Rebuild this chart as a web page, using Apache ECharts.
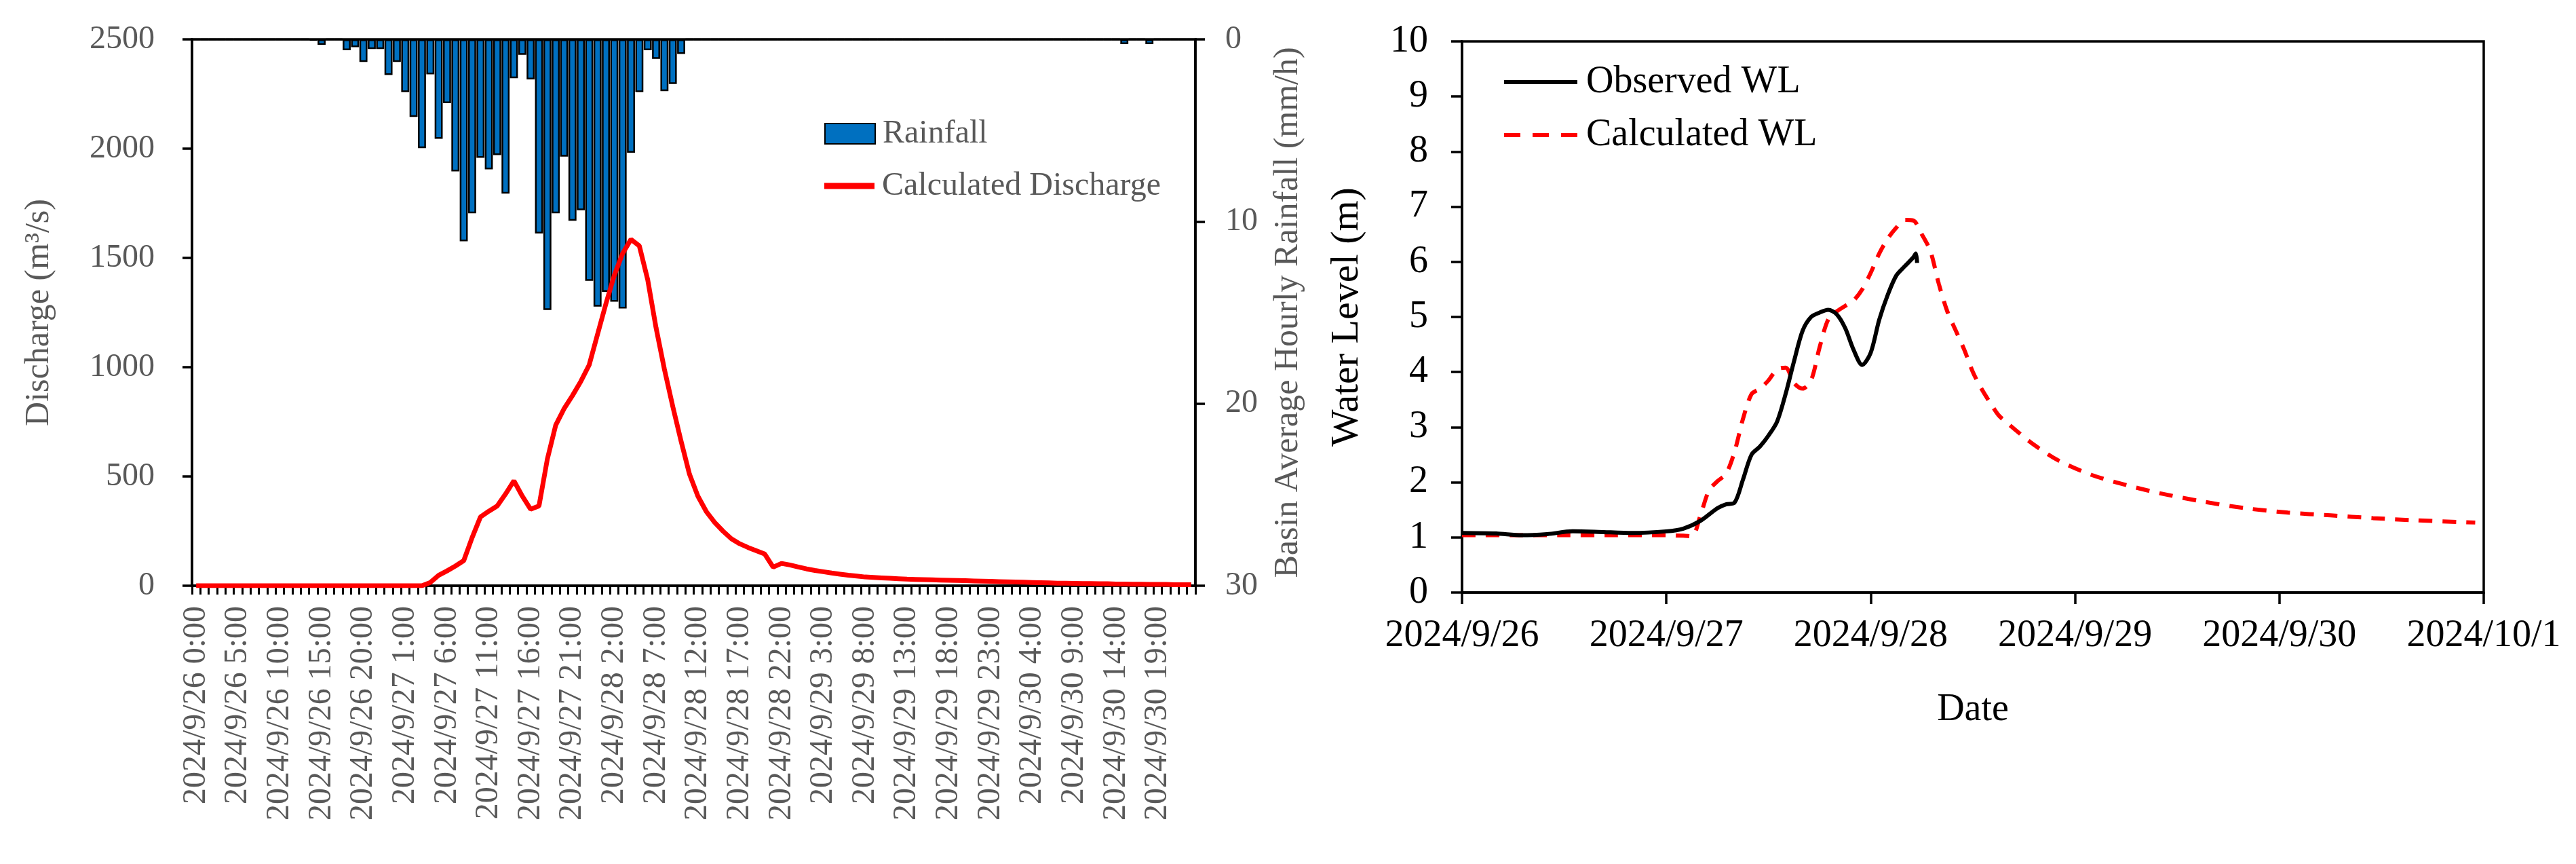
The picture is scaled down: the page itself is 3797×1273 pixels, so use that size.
<!DOCTYPE html>
<html><head><meta charset="utf-8">
<script src="https://cdn.jsdelivr.net/npm/echarts@6/dist/echarts.min.js"></script>
<style>html,body{margin:0;padding:0;background:#fff}#c{width:3797px;height:1273px}</style>
</head><body><div id="c"></div>
<script>
// Hourly basin average rainfall (mm/h), 2024/9/26 0:00 .. 2024/9/30 23:00
const rainfall = [
  0,0,0,0,0,0,0,0,0,0,
  0,0,0,0,0.05,0.3,0,0,0.6,0.43,
  1.24,0.53,0.53,1.96,1.24,2.9,4.26,5.97,1.92,5.46,
  3.5,7.25,11.09,9.55,6.5,7.14,6.35,8.47,2.13,0.85,
  2.2,10.66,14.86,9.55,6.44,9.96,9.38,13.26,14.67,13.86,
  14.4,14.78,6.22,2.9,0.6,1.07,2.84,2.45,0.8,0,
  0,0,0,0,0,0,0,0,0,0,
  0,0,0,0,0,0,0,0,0,0,
  0,0,0,0,0,0,0,0,0,0,
  0,0,0,0,0,0,0,0,0,0,
  0,0,0,0,0,0,0,0,0,0,
  0,0.26,0,0,0.26,0,0,0,0,0
];
// Hourly calculated discharge (m3/s)
const discharge = [
  0,0,0,0,0,0,0,0,0,0,
  0,0,0,0,0,0,0,0,0,0,
  0,0,0,0,0,0,0,0,15,48,
  68,90,115,220,315,341,365,420,480,410,
  350,365,580,735,810,870,935,1010,1150,1290,
  1420,1520,1585,1555,1400,1180,990,820,660,510,
  410,340,290,250,215,192,175,160,145,85,
  102,95,86,77,70,64,58,53,48,44,
  40,38,36,34,32,30,29,28,27,26,
  25,24,23,22,21,20,19,18,17,16,
  15,14,13,12,12,11,10,10,9,9,
  8,8,7,7,6,6,6,5,5,5
];
// Water level: hours since 2024/9/26 0:00
const obsHours = [0,4,7,10,13,16,20,24,26,28,30,31,32,33,34,35,36,37,38,39,40,41,42,43,44,45,46,47,48,49,50,51,52,53,53.3,53.45];
const obsLevel = [1.08,1.07,1.04,1.06,1.11,1.10,1.08,1.11,1.16,1.30,1.53,1.60,1.63,2.05,2.5,2.65,2.85,3.1,3.6,4.2,4.75,5.0,5.08,5.13,5.05,4.8,4.4,4.13,4.35,4.95,5.4,5.75,5.92,6.08,6.15,5.98];
const calHours = [0,6,12,18,24,26,27,28,29,30,31,32,33,34,35,36,37,38,39,40,41,42,43,44,45,46,47,48,49,50,51,52,53,54,55,56,57,58,59,60,61,62,63,64,65,67,70,74,78,82,87,92,97,102,107,112,119];
const calLevel = [1.04,1.04,1.04,1.04,1.04,1.03,1.02,1.4,1.85,2.02,2.15,2.55,3.15,3.6,3.7,3.85,4.05,4.08,3.8,3.7,3.85,4.45,4.95,5.1,5.2,5.3,5.5,5.8,6.15,6.42,6.62,6.76,6.75,6.5,6.2,5.6,5.1,4.75,4.4,4.0,3.7,3.45,3.22,3.08,2.95,2.7,2.4,2.13,1.95,1.8,1.65,1.53,1.45,1.4,1.35,1.31,1.27];
const dateTicks = ['2024/9/26','2024/9/27','2024/9/28','2024/9/29','2024/9/30','2024/10/1'];
const categories = [];
for (let h = 0; h < 120; h++) {
  categories.push('2024/9/' + (26 + Math.floor(h / 24)) + ' ' + (h % 24) + ':00');
}

const serif = '"Liberation Serif", "Times New Roman", serif';
const grey = '#595959';
const chart = echarts.init(document.getElementById('c'), null, {renderer: 'canvas'});
const axisLine = {show: true, lineStyle: {color: '#000', width: 3.5}};
const leftText = {fontFamily: serif, fontSize: 48, color: grey, padding: [0, 0, 0, 6]};
const rightText = {fontFamily: serif, fontSize: 56, color: '#000', padding: [0, 0, 0, 8]};
chart.setOption({
  backgroundColor: '#fff',
  animation: false,
  textStyle: {fontFamily: serif},
  grid: [
    {left: 283, right: 3797 - 1762, top: 58, bottom: 1273 - 863, show: true, borderColor: '#000', borderWidth: 3.5, containLabel: false},
    {left: 2155, right: 3797 - 3661, top: 61, bottom: 1273 - 873, show: true, borderColor: '#000', borderWidth: 3.5, containLabel: false}
  ],
  legend: [
    {
      left: 1210, top: 168, itemWidth: 74, itemHeight: 30, textStyle: leftText,
      data: [{name: 'Rainfall', icon: 'rect'}]
    },
    {
      left: 1210, top: 245, itemWidth: 74, itemHeight: 9, textStyle: leftText,
      data: [{name: 'Calculated Discharge', icon: 'rect'}]
    },
    {
      left: 2212, top: 88, itemWidth: 108, itemHeight: 6, textStyle: rightText,
      data: [{name: 'Observed WL', icon: 'rect'}]
    },
    {
      left: 2212, top: 166, itemWidth: 108, itemHeight: 6, textStyle: rightText,
      data: [{name: 'Calculated WL', icon: 'path://M0,0h24v6h-24z M42,0h24v6h-24z M84,0h24v6h-24z'}]
    }
  ],
  xAxis: [
    {
      type: 'category', gridIndex: 0, data: categories, boundaryGap: true,
      axisLine: axisLine,
      axisTick: {show: true, interval: 0, length: 13, lineStyle: {color: '#000', width: 3}},
      axisLabel: {interval: 4, rotate: 90, margin: 30, fontFamily: serif, fontSize: 48, color: grey},
      splitLine: {show: false}
    },
    {
      type: 'value', gridIndex: 1, min: 0, max: 120, interval: 24,
      name: 'Date', nameLocation: 'middle', nameGap: 145,
      nameTextStyle: {fontFamily: serif, fontSize: 56, color: '#000'},
      axisLine: axisLine,
      axisTick: {show: true, length: 17, lineStyle: {color: '#000', width: 3.5}},
      axisLabel: {margin: 36, fontFamily: serif, fontSize: 56, color: '#000',
        formatter: v => dateTicks[Math.round(v / 24)]},
      splitLine: {show: false}
    }
  ],
  yAxis: [
    {
      type: 'value', gridIndex: 0, min: 0, max: 2500, interval: 500, position: 'left',
      name: 'Discharge (m³/s)', nameLocation: 'middle', nameGap: 200, nameRotate: 90,
      nameTextStyle: {fontFamily: serif, fontSize: 50, color: grey},
      axisLine: axisLine,
      axisTick: {show: true, length: 14, lineStyle: {color: '#000', width: 3.5}},
      axisLabel: {margin: 55, fontFamily: serif, fontSize: 48, color: grey, formatter: v => String(v)},
      splitLine: {show: false}
    },
    {
      type: 'value', gridIndex: 0, min: 0, max: 30, interval: 10, position: 'right', inverse: true,
      name: 'Basin Average Hourly Rainfall (mm/h)', nameLocation: 'middle', nameGap: 112, nameRotate: 90,
      nameTextStyle: {fontFamily: serif, fontSize: 50, color: grey},
      axisLine: axisLine,
      axisTick: {show: true, length: 14, lineStyle: {color: '#000', width: 3.5}},
      axisLabel: {margin: 44, fontFamily: serif, fontSize: 48, color: grey, formatter: v => String(v)},
      splitLine: {show: false}
    },
    {
      type: 'value', gridIndex: 1, min: 0, max: 10, interval: 1,
      name: 'Water Level (m)', nameLocation: 'middle', nameGap: 140, nameRotate: 90,
      nameTextStyle: {fontFamily: serif, fontSize: 58, color: '#000'},
      axisLine: axisLine,
      axisTick: {show: true, length: 16, lineStyle: {color: '#000', width: 3.5}},
      axisLabel: {margin: 50, fontFamily: serif, fontSize: 56, color: '#000'},
      splitLine: {show: false}
    }
  ],
  series: [
    {
      name: 'Rainfall', type: 'bar', xAxisIndex: 0, yAxisIndex: 1, data: rainfall,
      barCategoryGap: '4%',
      itemStyle: {color: '#0070C0', borderColor: '#000', borderWidth: 2.5}
    },
    {
      name: 'Calculated Discharge', type: 'line', xAxisIndex: 0, yAxisIndex: 0, data: discharge,
      symbol: 'none', lineStyle: {color: '#FF0000', width: 7}, itemStyle: {color: '#FF0000'}, z: 5
    },
    {
      name: 'Observed WL', type: 'line', xAxisIndex: 1, yAxisIndex: 2,
      data: obsHours.map((h, i) => [h, obsLevel[i]]), smooth: 0.3,
      symbol: 'none', lineStyle: {color: '#000', width: 6}, itemStyle: {color: '#000'}, z: 4
    },
    {
      name: 'Calculated WL', type: 'line', xAxisIndex: 1, yAxisIndex: 2,
      data: calHours.map((h, i) => [h, calLevel[i]]), smooth: 0.3,
      symbol: 'none', lineStyle: {color: '#FF0000', width: 6, type: [20, 15]}, itemStyle: {color: '#FF0000'}, z: 3
    }
  ]
});
</script>
</body></html>
